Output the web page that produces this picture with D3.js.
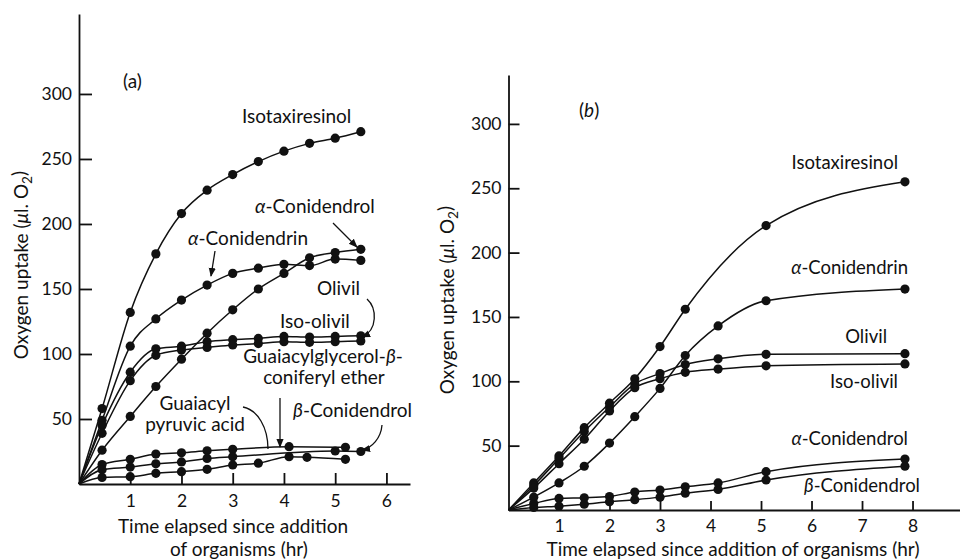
<!DOCTYPE html>
<html>
<head>
<meta charset="utf-8">
<script src="https://cdn.jsdelivr.net/npm/d3@7"></script>
<style>
  body { margin: 0; background: #fff; }
  svg { display: block; font-family: Lato, "Noto Sans", sans-serif; }
  .axis path, .axis line { stroke: #111; stroke-width: 1.8; }
  .axis text { font-size: 17.5px; fill: #111; font-family: Lato, sans-serif; }
  .curve { fill: none; stroke: #111; stroke-width: 1.5; }
  .dot { fill: #111; }
  .lbl { fill: #111; }
  .arrow { fill: none; stroke: #111; stroke-width: 1.3; }
</style>
</head>
<body>
<div id="container"></div>
<script>
// panel (a): [time (hr), oxygen uptake (µl O2)]
const isotaxA = [[0,0],[0.45,58],[1,132],[1.5,177],[2,208],[2.5,226],[3,238],[3.5,248],[4,256],[4.5,262],[5,266],[5.5,271]];
const conidendrinA = [[0,0],[0.45,49],[1,106],[1.5,127],[2,141.5],[2.5,153],[3,162],[3.5,166],[4,169],[4.5,168],[5,173],[5.5,172]];
const alphaConidendrolA = [[0,0],[0.45,26],[1,52],[1.5,75],[2,96],[2.5,116],[3,134],[3.5,150],[4,162],[4.5,174],[5,178],[5.5,180.5]];
const olivilA = [[0,0],[0.45,45],[1,86],[1.5,104],[2,106],[2.5,109.5],[3,111],[3.5,112],[4,113.5],[4.5,113],[5,113.5],[5.5,114]];
const isoOlivilA = [[0,0],[0.45,39],[1,79.5],[1.5,99],[2,103],[2.5,105],[3,107],[3.5,108],[4,109.5],[4.5,109],[5,109.5],[5.5,110]];
const glycerolEtherA = [[0,0],[0.45,15],[1,19],[1.5,23],[2,24],[2.5,25.5],[3,26.7],[4.1,28.7],[5.2,28.2]];
const betaConidendrolA = [[0,0],[0.45,11],[1,13],[1.5,15.5],[2,17],[2.5,19.7],[3,21],[5,25.4],[5.5,25]];
const pyruvicA = [[0,0],[0.45,5],[1,5.6],[1.5,8.2],[2,9.5],[2.5,11.3],[3,14.6],[3.5,16],[4.1,21],[4.45,20.5],[5.2,19]];

// panel (b)
const isotaxB = [[0,0],[0.5,21],[1,42],[1.5,64],[2,83],[2.5,102],[3,127],[3.5,156],[5.1,221],[7.85,255]];
const conidendrinB = [[0,0],[0.5,10],[1,21],[1.5,34],[2,52],[2.5,72.5],[3,94.5],[3.5,120],[4.15,143],[5.1,162.6],[7.85,171.7]];
const olivilB = [[0,0],[0.5,19],[1,40],[1.5,61],[2,80],[2.5,98],[3,106],[3.5,113],[4.15,117.5],[5.1,121],[7.85,121.5]];
const isoOlivilB = [[0,0],[0.5,17],[1,36],[1.5,55],[2,77],[2.5,95],[3,102],[3.5,107],[4.15,109.5],[5.1,112],[7.85,113.5]];
const alphaConidendrolB = [[0,0],[0.5,5],[1,9],[1.5,9.5],[2,10.5],[2.5,14],[3,15.5],[3.5,18],[4.15,21],[5.1,29.8],[7.85,39.6]];
const betaConidendrolB = [[0,0],[0.5,2],[1,3],[1.5,4.5],[2,6.5],[2.5,8],[3,10],[3.5,13],[4.15,16],[5.1,23.3],[7.85,34]];

const yTicks = [50, 100, 150, 200, 250, 300];
const xTicksA = [1, 2, 3, 4, 5, 6];
const xTicksB = [1, 2, 3, 4, 5, 6, 7, 8];

const width = 960, height = 560;

const svg = d3.select('#container')
    .append('svg')
    .attr('width', width)
    .attr('height', height)

svg.append('defs').append('marker')
    .attr('id', 'head')
    .attr('viewBox', '0 0 10 10')
    .attr('refX', 9).attr('refY', 5)
    .attr('markerWidth', 9).attr('markerHeight', 9)
    .attr('markerUnits', 'userSpaceOnUse')
    .attr('orient', 'auto')
    .append('path')
    .attr('d', 'M0,1 L10,5 L0,9 Z')
    .attr('fill', '#111')

// text with italic letters written as *x* and a subscript written as _2
function richText(sel, str) {
    const parts = str.split(/(\*[^*]+\*|_2)/).filter(s => s.length)
    let back = false
    parts.forEach(p => {
        let t
        if (p === '_2') {
            t = sel.append('tspan').attr('dy', '0.3em').attr('font-size', '0.72em').text('2')
            back = true
            return
        } else if (p.startsWith('*')) {
            t = sel.append('tspan').attr('font-style', 'italic').text(p.slice(1, -1))
        } else {
            t = sel.append('tspan').text(p)
        }
        if (back) { t.attr('dy', '-0.3em'); back = false }
    })
}

function label(x, y, str, size, anchor) {
    const t = svg.append('text')
        .attr('class', 'lbl')
        .attr('x', x).attr('y', y)
        .attr('font-size', size)
        .attr('text-anchor', anchor || 'start')
    richText(t, str)
    return t
}

function drawPanel(cfg) {
    const x = d3.scaleLinear().domain(cfg.xDomain).range(cfg.xRange)
    const y = d3.scaleLinear().domain(cfg.yDomain).range(cfg.yRange)

    const g = svg.append('g')

    g.append('g')
        .attr('class', 'axis')
        .attr('transform', `translate(0,${y(0)})`)
        .call(d3.axisBottom(x).tickValues(cfg.xTicks).tickSizeInner(-cfg.xTickLen).tickSizeOuter(0).tickPadding(cfg.xPad).tickFormat(d3.format('d')))

    g.append('g')
        .attr('class', 'axis')
        .attr('transform', `translate(${x(0)},0)`)
        .call(d3.axisLeft(y).tickValues(yTicks).tickSizeInner(-cfg.yTickLen).tickSizeOuter(0).tickPadding(7).tickFormat(d3.format('d')))

    g.selectAll('.axis .domain').attr('stroke-width', 2)

    const line = d3.line()
        .x(d => x(d[0]))
        .y(d => y(d[1]))
        .curve(d3.curveMonotoneX)

    cfg.series.forEach(s => {
        g.append('path').attr('class', 'curve').attr('d', line(s))
        g.selectAll(null)
            .data(s.filter(d => d[0] > 0))
            .enter()
            .append('circle')
            .attr('class', 'dot')
            .attr('cx', d => x(d[0]))
            .attr('cy', d => y(d[1]))
            .attr('r', 4.6)
    })
}

drawPanel({
    xDomain: [0, 6.46], xRange: [79, 410],
    yDomain: [0, 361.5], yRange: [484, 14],
    xTicks: xTicksA, xTickLen: 11, yTickLen: 13, xPad: 11,
    series: [isotaxA, conidendrinA, alphaConidendrolA, olivilA, isoOlivilA, glycerolEtherA, betaConidendrolA, pyruvicA]
})

drawPanel({
    xDomain: [0, 8.94], xRange: [508.5, 960],
    yDomain: [0, 338], yRange: [510, 75],
    xTicks: xTicksB, xTickLen: 9, yTickLen: 11, xPad: 10,
    series: [isotaxB, conidendrinB, olivilB, isoOlivilB, alphaConidendrolB, betaConidendrolB]
})

// panel (a) labels
label(123, 88, '(a)', 19)
label(242, 123, 'Isotaxiresinol', 19)
label(255, 213, '*α*-Conidendrol', 19)
label(188, 245, '*α*-Conidendrin', 19)
label(317, 295, 'Olivil', 19)
label(280, 328, 'Iso-olivil', 19)
label(323, 363, 'Guaiacylglycerol-*β*-', 19, 'middle')
label(324, 384, 'coniferyl ether', 19, 'middle')
label(195, 410, 'Guaiacyl', 19, 'middle')
label(195, 431, 'pyruvic acid', 19, 'middle')
label(293, 417, '*β*-Conidendrol', 19)

// pointer arrows (a)
const arrows = [
    ['M333,223 L357,247', true],
    ['M215,251 L211,276', true],
    ['M367,299 C377,308 378,330 362,337', true],
    ['M280,398 L280,447', true],
    ['M243,407 C258,410 268,428 268,449', false],
    ['M382,425 C381,438 372,448 362,450', true]
]
arrows.forEach(a => {
    svg.append('path').attr('class', 'arrow').attr('d', a[0])
        .attr('marker-end', a[1] ? 'url(#head)' : null)
})

// panel (b) labels
label(579, 117, '(*b*)', 19)
label(898, 169, 'Isotaxiresinol', 18.5, 'end')
label(908, 274, '*α*-Conidendrin', 18.5, 'end')
label(887, 343, 'Olivil', 18.5, 'end')
label(898, 388, 'Iso-olivil', 18.5, 'end')
label(908, 445, '*α*-Conidendrol', 18.5, 'end')
label(920, 492, '*β*-Conidendrol', 18.5, 'end')

// axis titles
label(0, 0, 'Oxygen uptake (*μ*l. O_2)', 19, 'middle').attr('transform', 'translate(28,265) rotate(-90)')
label(0, 0, 'Oxygen uptake (*μ*l. O_2)', 19, 'middle').attr('transform', 'translate(454,300) rotate(-90)')
label(233, 533, 'Time elapsed since addition', 19, 'middle')
label(239, 556, 'of organisms (hr)', 19, 'middle')
label(733, 556, 'Time elapsed since addition of organisms (hr)', 19, 'middle')
</script>
</body>
</html>
